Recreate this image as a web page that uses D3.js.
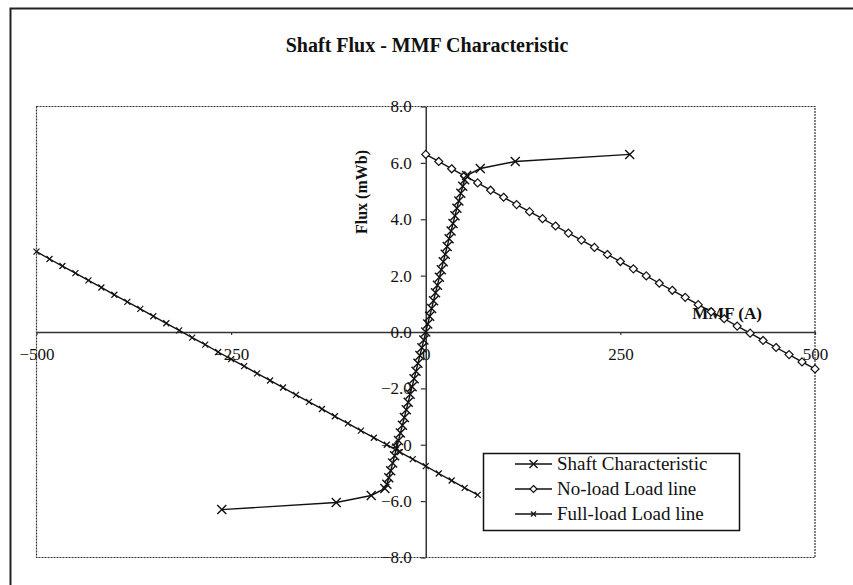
<!DOCTYPE html>
<html><head><meta charset="utf-8">
<script src="https://cdn.jsdelivr.net/npm/d3@7"></script>
<style>
body{margin:0;background:#fff}
svg{display:block}
text{font-family:"Liberation Serif","Times New Roman",serif;fill:#111}
</style>
</head><body><svg id="c" width="853" height="585"></svg>
<script>
// ---- data ----
const shaftMMF  = [-262,-115,-70,-52.5,-50,-47.5,-45,-42.5,-40,-37.5,-35,-32.5,-30,-27.5,-25,-22.5,-20,-17.5,-15,-12.5,-10,-7.5,-5,-2.5,0,2.5,5,7.5,10,12.5,15,17.5,20,22.5,25,27.5,30,32.5,35,37.5,40,42.5,45,47.5,50,52.5,70,115,262];
const shaftFlux = [-6.3,-6.05,-5.8,-5.55,-5.4,-5.17,-4.92,-4.65,-4.39,-4.12,-3.85,-3.58,-3.31,-3.03,-2.76,-2.49,-2.21,-1.94,-1.66,-1.39,-1.11,-0.83,-0.56,-0.28,0,0.28,0.56,0.83,1.11,1.39,1.66,1.94,2.21,2.49,2.76,3.03,3.31,3.58,3.85,4.12,4.39,4.65,4.92,5.17,5.4,5.55,5.8,6.05,6.3];

const noLoadMMF  = [0,16.7,33.3,50,66.7,83.3,100,116.7,133.3,150,166.7,183.3,200,216.7,233.3,250,266.7,283.3,300,316.7,333.3,350,366.7,383.3,400,416.7,433.3,450,466.7,483.3,500];
const noLoadFlux = [6.30,6.05,5.79,5.54,5.29,5.03,4.78,4.52,4.27,4.02,3.76,3.51,3.26,3.00,2.75,2.50,2.24,1.99,1.73,1.48,1.23,0.97,0.72,0.47,0.21,-0.04,-0.30,-0.55,-0.80,-1.06,-1.31];

const fullLoadMMF  = [-500,-483.3,-466.7,-450,-433.3,-416.7,-400,-383.3,-366.7,-350,-333.3,-316.7,-300,-283.3,-266.7,-250,-233.3,-216.7,-200,-183.3,-166.7,-150,-133.3,-116.7,-100,-83.3,-66.7,-50,-33.3,-16.7,0,16.7,33.3,50,66.7];
const fullLoadFlux = [2.85,2.59,2.34,2.09,1.83,1.58,1.32,1.07,0.82,0.56,0.31,0.06,-0.20,-0.45,-0.71,-0.96,-1.21,-1.47,-1.72,-1.97,-2.23,-2.48,-2.73,-2.99,-3.24,-3.50,-3.75,-4.00,-4.26,-4.51,-4.76,-5.02,-5.27,-5.53,-5.78];

const xTicks = [-500,-250,0,250,500];
const yTicks = [-8,-6,-4,-2,0,2,4,6,8];
const seriesNames = ["Shaft Characteristic","No-load Load line","Full-load Load line"];
const chartTitle = "Shaft Flux - MMF Characteristic";
const xTitle = "MMF (A)";
const yTitle = "Flux (mWb)";

// ---- drawing ----
const svg = d3.select("#c");
const L = 36.5, R = 815, T = 106.5, B = 557.5;
const x = d3.scaleLinear().domain([-500,500]).range([L,R]);
const y = d3.scaleLinear().domain([-8,8]).range([B,T]);

// outer chart border (only top and left visible)
svg.append("path").attr("d",`M10.5,585 L10.5,8.5 L853,8.5`).attr("fill","none").attr("stroke","#222").attr("stroke-width",2);

// plot area border (dotted)
svg.append("rect").attr("x",L).attr("y",T).attr("width",R-L).attr("height",B-T)
  .attr("fill","none").attr("stroke","#333").attr("stroke-width",1.2).attr("stroke-dasharray","2,1");

// title
svg.append("text").attr("x",427).attr("y",52).attr("text-anchor","middle")
  .attr("font-size",20).attr("font-weight","bold").text(chartTitle);

// axes
const xAxis = svg.append("g").attr("transform",`translate(0,${y(0)})`)
  .call(d3.axisBottom(x).tickValues(xTicks).tickSizeInner(3).tickSizeOuter(0).tickPadding(13).tickFormat(d3.format("d")));
const yAxis = svg.append("g").attr("transform",`translate(${x(0)},0)`)
  .call(d3.axisLeft(y).tickValues(yTicks).tickSizeInner(5).tickSizeOuter(0).tickPadding(9).tickFormat(d3.format(".1f")));
[xAxis,yAxis].forEach(g=>{
  g.select(".domain").attr("stroke","#333").attr("stroke-width",1.5);
  g.selectAll(".tick line").attr("stroke","#333").attr("stroke-width",1.2);
  g.selectAll(".tick text").attr("font-family","Liberation Serif").attr("font-size",17).attr("fill","#111");
});

// axis titles
svg.append("text").attr("x",727).attr("y",319).attr("text-anchor","middle")
  .attr("font-size",17).attr("font-weight","bold").text(xTitle);
svg.append("text").attr("transform",`translate(367,192) rotate(-90)`).attr("text-anchor","middle")
  .attr("font-size",16).attr("font-weight","bold").text(yTitle);

// series
const line = d3.line().x(d=>x(d[0])).y(d=>y(d[1]));
const shaft = shaftMMF.map((m,i)=>[m,shaftFlux[i]]);
const noLoad = noLoadMMF.map((m,i)=>[m,noLoadFlux[i]]);
const fullLoad = fullLoadMMF.map((m,i)=>[m,fullLoadFlux[i]]);

function xMark(g,cx,cy,s,w){
  g.append("path").attr("d",`M${cx-s},${cy-s}L${cx+s},${cy+s}M${cx-s},${cy+s}L${cx+s},${cy-s}`)
   .attr("stroke","#111").attr("stroke-width",w).attr("fill","none");
}
function diamond(g,cx,cy,s){
  g.append("path").attr("d",`M${cx},${cy-s}L${cx+s},${cy}L${cx},${cy+s}L${cx-s},${cy}Z`)
   .attr("stroke","#111").attr("stroke-width",1.2).attr("fill","#fff");
}

const gS = svg.append("g");
[fullLoad, noLoad, shaft].forEach(d=>{
  gS.append("path").datum(d).attr("d",line).attr("fill","none").attr("stroke","#111").attr("stroke-width",1.4);
});
fullLoad.forEach(d=>xMark(gS,x(d[0]),y(d[1]),3,1.2));
noLoad.forEach(d=>diamond(gS,x(d[0]),y(d[1]),4));
shaft.forEach(d=>xMark(gS,x(d[0]),y(d[1]),4.5,1.4));

// legend
const lg = svg.append("g");
lg.append("rect").attr("x",483.5).attr("y",453.5).attr("width",256).attr("height",77)
  .attr("fill","#fff").attr("stroke","#111").attr("stroke-width",1.5);
const rowsY = [464,489,514];
seriesNames.forEach((n,i)=>{
  const yy = rowsY[i];
  lg.append("line").attr("x1",515).attr("x2",552).attr("y1",yy).attr("y2",yy).attr("stroke","#111").attr("stroke-width",1.4);
  if(i===0) xMark(lg,533.5,yy,4,1.4);
  if(i===1) diamond(lg,533.5,yy,3.5);
  if(i===2) xMark(lg,533.5,yy,2.5,1.2);
  lg.append("text").attr("x",557).attr("y",yy+6).attr("font-size",19).text(n);
});
</script>
</body></html>
